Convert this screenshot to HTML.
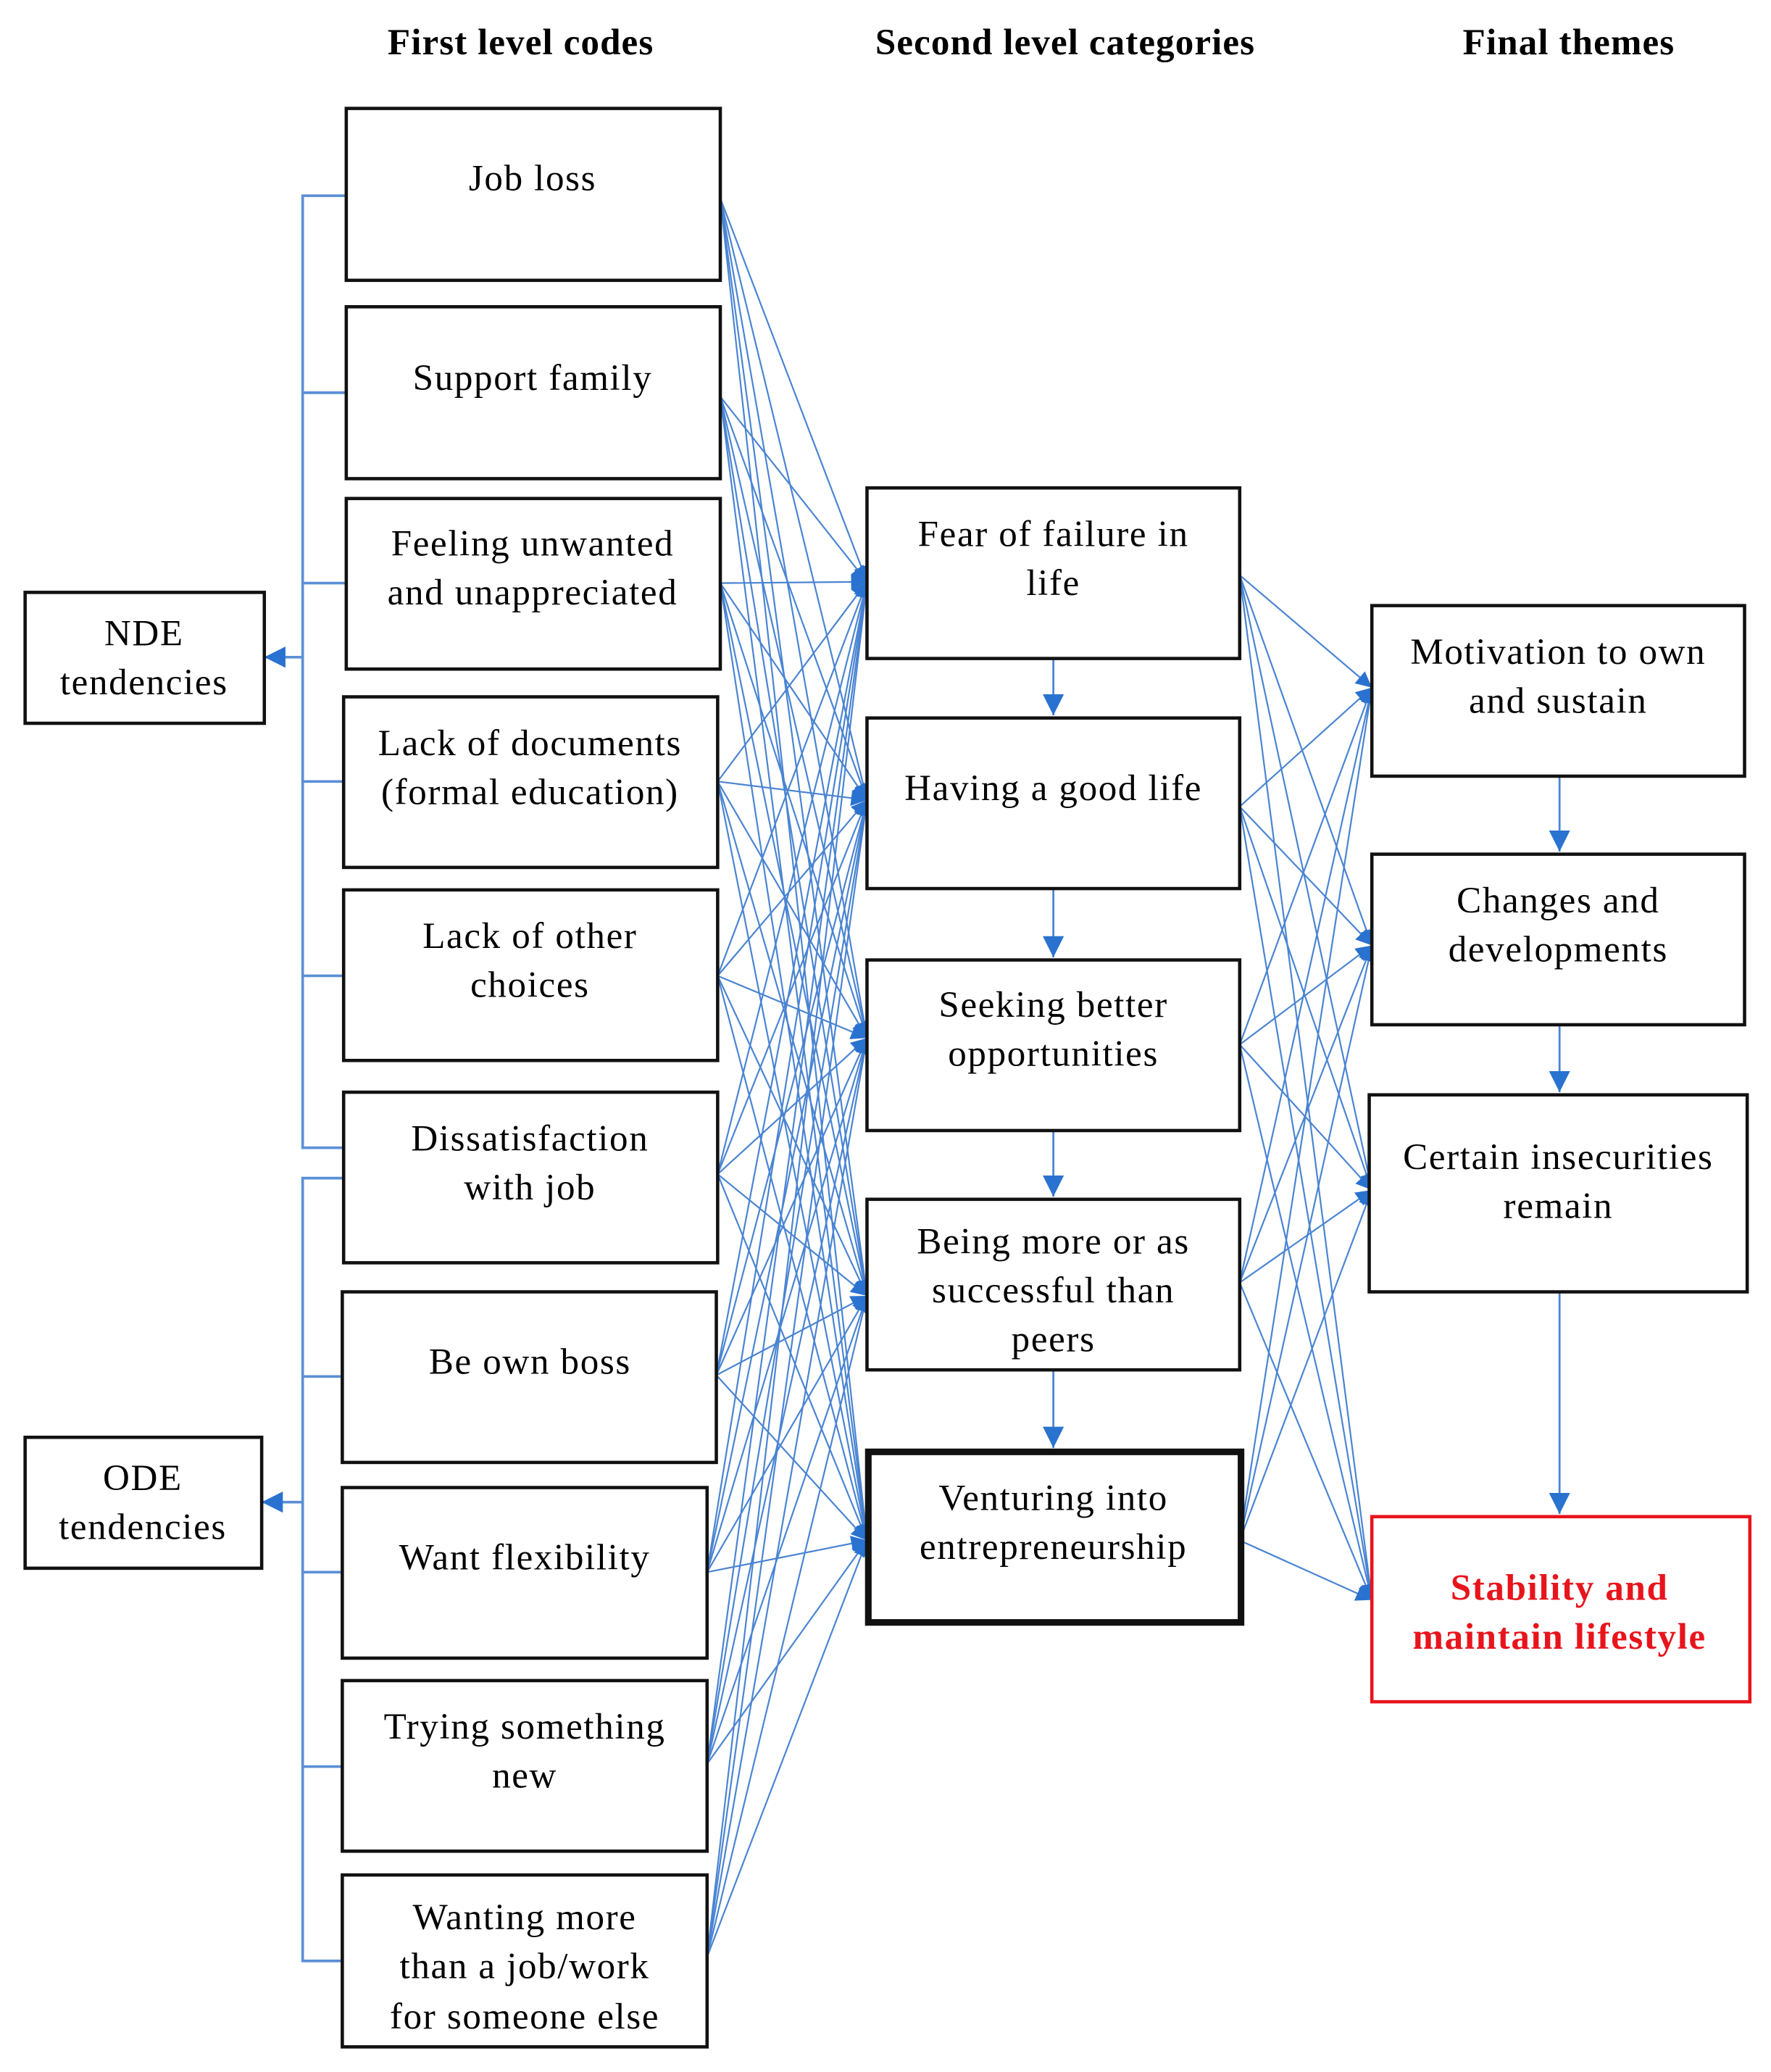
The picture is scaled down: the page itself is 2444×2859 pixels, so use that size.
<!DOCTYPE html>
<html><head><meta charset="utf-8"><style>html,body{margin:0;padding:0;background:#fff}svg{display:block}</style></head>
<body>
<svg xmlns="http://www.w3.org/2000/svg" width="2444" height="2859" viewBox="0 0 1340 1567" preserveAspectRatio="none">
<defs>
<marker id="a" viewBox="0 0 10 10" refX="10" refY="5" markerWidth="12" markerHeight="12" markerUnits="userSpaceOnUse" orient="auto"><path d="M0,0L10,5L0,10z" fill="#2a72cf"/></marker>
<marker id="b" viewBox="0 0 10 10" refX="10" refY="5" markerWidth="16" markerHeight="16" markerUnits="userSpaceOnUse" orient="auto"><path d="M0,0L10,5L0,10z" fill="#2a72cf"/></marker>
</defs>
<g font-family="Liberation Serif, serif" font-weight="bold" font-size="28" letter-spacing="0.6" text-anchor="middle" fill="#000">
<text x="394" y="41">First level codes</text>
<text x="806" y="41">Second level categories</text>
<text x="1187" y="41">Final themes</text>
</g>
<g stroke="#5b8fd6" stroke-width="2" fill="none">
<path d="M262,148H229V868H260M229,297H262M229,441H262M229,591H260M229,738H260"/>
<path d="M260,891H229V1483H259M229,1041H259M229,1189H259M229,1336H259"/>
<line x1="229" y1="497" x2="200" y2="497" marker-end="url(#b)"/>
<line x1="229" y1="1136" x2="198" y2="1136" marker-end="url(#b)"/>
</g>
<g stroke="#4a84d2" stroke-width="1.2" fill="none" marker-end="url(#a)" id="c"></g>
<g stroke="#4a84d2" stroke-width="1.5" marker-end="url(#b)">
<line x1="797" y1="498" x2="797" y2="541"/>
<line x1="797" y1="672" x2="797" y2="724"/>
<line x1="797" y1="855" x2="797" y2="905"/>
<line x1="797" y1="1036" x2="797" y2="1095"/>
<line x1="1180" y1="587" x2="1180" y2="644"/>
<line x1="1180" y1="775" x2="1180" y2="826"/>
<line x1="1180" y1="977" x2="1180" y2="1145"/>
</g>
<g fill="#fff" stroke="#111" stroke-width="2.5">
<rect x="262" y="82" width="283" height="130"/>
<rect x="262" y="232" width="283" height="130"/>
<rect x="262" y="377" width="283" height="129"/>
<rect x="260" y="527" width="283" height="129"/>
<rect x="260" y="673" width="283" height="129"/>
<rect x="260" y="826" width="283" height="129"/>
<rect x="259" y="977" width="283" height="129"/>
<rect x="259" y="1125" width="276" height="129"/>
<rect x="259" y="1271" width="276" height="129"/>
<rect x="259" y="1418" width="276" height="130"/>
<rect x="19" y="448" width="181" height="99"/>
<rect x="19" y="1087" width="179" height="99"/>
<rect x="656" y="369" width="282" height="129"/>
<rect x="656" y="543" width="282" height="129"/>
<rect x="656" y="726" width="282" height="129"/>
<rect x="656" y="907" width="282" height="129"/>
<rect x="657" y="1098" width="282" height="129" stroke-width="5"/>
<rect x="1038" y="458" width="282" height="129"/>
<rect x="1038" y="646" width="282" height="129"/>
<rect x="1036" y="828" width="286" height="149"/>
<rect x="1038" y="1147" width="286" height="140" stroke="#e8141c"/>
</g>
<g font-family="Liberation Serif, serif" font-size="28" letter-spacing="0.9" text-anchor="middle" fill="#000">
<text x="403" y="144">Job loss</text>
<text x="403" y="295">Support family</text>
<text x="403" y="420">Feeling unwanted</text>
<text x="403" y="457">and unappreciated</text>
<text x="401" y="571">Lack of documents</text>
<text x="401" y="608">(formal education)</text>
<text x="401" y="717">Lack of other</text>
<text x="401" y="754">choices</text>
<text x="401" y="870">Dissatisfaction</text>
<text x="401" y="907">with job</text>
<text x="401" y="1039">Be own boss</text>
<text x="397" y="1187">Want flexibility</text>
<text x="397" y="1315">Trying something</text>
<text x="397" y="1352">new</text>
<text x="397" y="1459">Wanting more</text>
<text x="397" y="1496">than a job/work</text>
<text x="397" y="1534">for someone else</text>
<text x="109" y="488">NDE</text>
<text x="109" y="525">tendencies</text>
<text x="108" y="1127">ODE</text>
<text x="108" y="1164">tendencies</text>
<text x="797" y="413">Fear of failure in</text>
<text x="797" y="450">life</text>
<text x="797" y="605">Having a good life</text>
<text x="797" y="769">Seeking better</text>
<text x="797" y="806">opportunities</text>
<text x="797" y="948">Being more or as</text>
<text x="797" y="985">successful than</text>
<text x="797" y="1022">peers</text>
<text x="797" y="1142">Venturing into</text>
<text x="797" y="1179">entrepreneurship</text>
<text x="1179" y="502">Motivation to own</text>
<text x="1179" y="539">and sustain</text>
<text x="1179" y="690">Changes and</text>
<text x="1179" y="727">developments</text>
<text x="1179" y="884">Certain insecurities</text>
<text x="1179" y="921">remain</text>
<text x="1180" y="1210" fill="#e8141c" font-weight="bold">Stability and</text>
<text x="1180" y="1247" fill="#e8141c" font-weight="bold">maintain lifestyle</text>
</g>
<script>
(function(){
var g=document.getElementById('c'),ns='http://www.w3.org/2000/svg';
function L(x1,y1,x2,y2){var l=document.createElementNS(ns,'line');l.setAttribute('x1',x1);l.setAttribute('y1',y1);l.setAttribute('x2',x2);l.setAttribute('y2',y2);g.appendChild(l);}
var src=[[545,150],[545,300],[545,441],[543,591],[543,738],[543,888],[542,1040],[535,1189],[535,1334],[535,1480]];
var mt=[440,605,785,980,1165];
src.forEach(function(s){mt.forEach(function(t){L(s[0],s[1],656,t);});});
var ms=[435,610,790,970,1165],rt=[520,715,900,1210];
ms.forEach(function(s){rt.forEach(function(t){L(938,s,1038,t);});});
})();
</script>
</svg>
</body></html>
